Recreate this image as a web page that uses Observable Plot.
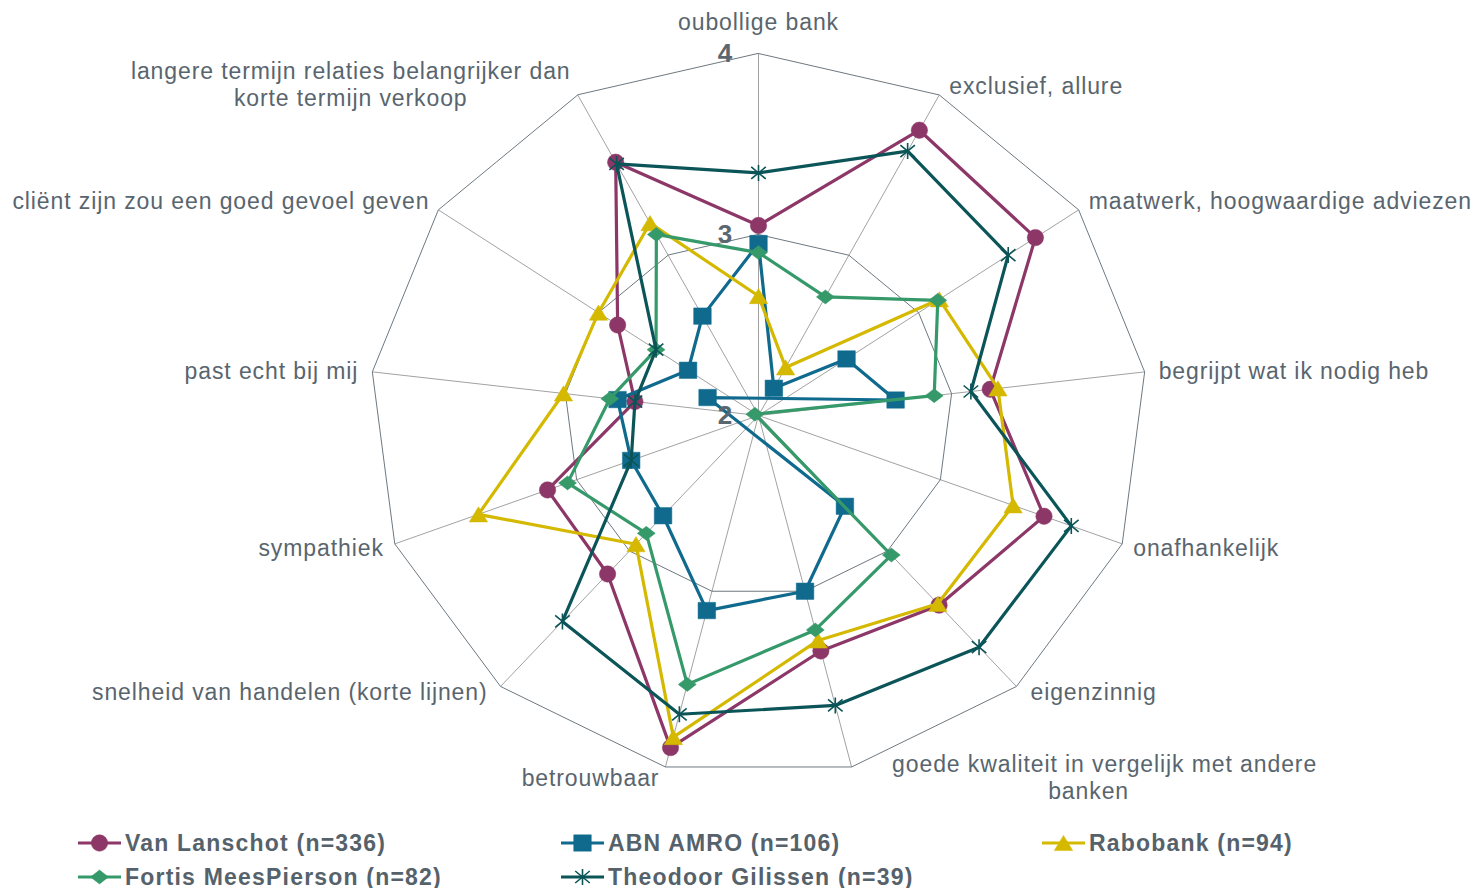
<!DOCTYPE html>
<html>
<head>
<meta charset="utf-8">
<script src="https://cdn.jsdelivr.net/npm/d3@7"></script>
<script src="https://cdn.jsdelivr.net/npm/@observablehq/plot@0.6"></script>
<style>
html, body { margin: 0; padding: 0; background: #ffffff; }
#wrap { position: relative; width: 1480px; height: 888px; overflow: hidden; font-family: "Liberation Sans", Arial, sans-serif; }
#chart { position: absolute; left: 0; top: 0; }
.entry { position: absolute; display: flex; align-items: center; height: 30px; }
.entry svg { display: block; }
.entry span { font-family: "Liberation Sans", Arial, sans-serif; font-weight: bold; font-size: 23px; letter-spacing: 1.2px; color: #56626b; margin-left: 4px; white-space: nowrap; }
</style>
</head>
<body>
<div id="wrap"><div id="chart"></div></div>
<script>
// ---- data ----
const categories = [
  "oubollige bank",
  "exclusief, allure",
  "maatwerk, hoogwaardige adviezen",
  "begrijpt wat ik nodig heb",
  "onafhankelijk",
  "eigenzinnig",
  "goede kwaliteit in vergelijk met andere\nbanken",
  "betrouwbaar",
  "snelheid van handelen (korte lijnen)",
  "sympathiek",
  "past echt bij mij",
  "cliënt zijn zou een goed gevoel geven",
  "langere termijn relaties belangrijker dan\nkorte termijn verkoop"
];
const seriesNames = [
  "Van Lanschot (n=336)",
  "ABN AMRO (n=106)",
  "Rabobank (n=94)",
  "Fortis MeesPierson (n=82)",
  "Theodoor Gilissen (n=39)"
];
const vanLanschot = [3.05, 3.78, 3.73, 3.20, 3.57, 3.40, 3.34, 3.89, 3.17, 3.16, 2.64, 2.88, 3.58];
const abnAmro     = [2.95, 2.17, 2.55, 2.71, 1.72, 2.67, 3.00, 3.11, 2.74, 2.70, 2.73, 2.44, 2.62];
const rabobank    = [2.66, 2.30, 3.13, 3.24, 3.40, 3.39, 3.28, 3.83, 2.95, 3.54, 3.01, 3.00, 3.20];
const fortis      = [2.90, 2.74, 3.12, 2.91, 1.98, 3.03, 3.22, 3.53, 2.87, 3.05, 2.77, 2.64, 3.13];
const theodoor    = [3.34, 3.65, 3.56, 3.10, 3.72, 3.71, 3.65, 3.70, 3.52, 2.70, 2.64, 2.64, 3.57];
const tickValues  = [2, 3, 4];

// ---- styling / layout ----
const colors = ["#8c3767", "#0f6a8e", "#d4b900", "#35996a", "#0b5558"];
const axisMin = 2, axisMax = 4;
const SX = 1.07; // horizontal stretch of markers

function rad(size) { return Math.sqrt(size / Math.PI); }
const symCircle = { draw(c, s) { const r = rad(s); c.moveTo(r, 0); c.arc(0, 0, r, 0, 2 * Math.PI); } };
const symSquare = { draw(c, s) { const r = rad(s); c.rect(-r * SX, -r, 2 * r * SX, 2 * r); } };
const symTriangle = { draw(c, s) { const r = rad(s); c.moveTo(0, -r); c.lineTo(r * 1.13 * SX, r); c.lineTo(-r * 1.13 * SX, r); c.closePath(); } };
const symDiamond = { draw(c, s) { const r = rad(s); c.moveTo(0, -r); c.lineTo(r * 1.2 * SX, 0); c.lineTo(0, r); c.lineTo(-r * 1.2 * SX, 0); c.closePath(); } };
const symStar = { draw(c, s) { const r = rad(s); c.moveTo(0, -r); c.lineTo(0, r);
  c.moveTo(-r * 0.85 * SX, -r * 0.75); c.lineTo(r * 0.85 * SX, r * 0.75);
  c.moveTo(-r * 0.85 * SX, r * 0.75); c.lineTo(r * 0.85 * SX, -r * 0.75); } };
const markerStyles = [
  { symbol: symCircle, r: 8.2, filled: true },
  { symbol: symSquare, r: 8.2, filled: true },
  { symbol: symTriangle, r: 7.6, filled: true },
  { symbol: symDiamond, r: 7, filled: true },
  { symbol: symStar, r: 8, filled: false }
];

const labelLayout = [
  { anchor: "middle", dx: [0], dy: -31 },
  { anchor: "start", dx: [10], dy: -8 },
  { anchor: "start", dx: [10], dy: -8 },
  { anchor: "start", dx: [14], dy: 0 },
  { anchor: "start", dx: [11], dy: 5 },
  { anchor: "start", dx: [14], dy: 6 },
  { anchor: "middle", dx: [253, 237], dy: -2.5 },
  { anchor: "end", dx: [-6], dy: 12 },
  { anchor: "end", dx: [-13], dy: 6 },
  { anchor: "end", dx: [-11], dy: 5 },
  { anchor: "end", dx: [-14], dy: 0 },
  { anchor: "end", dx: [-9], dy: -8 },
  { anchor: "middle", dx: [-227, -227], dy: -23.5 }
];
const lineStep = 27.5;
const textColor = "#59656e";

// ---- build tables ----
const N = categories.length;
const angle = i => i * 2 * Math.PI / N;
const px = (v, i) => (v - axisMin) * Math.sin(angle(i));
const py = (v, i) => (v - axisMin) * Math.cos(angle(i));

const seriesValues = [vanLanschot, abnAmro, rabobank, fortis, theodoor];
const rows = [];
seriesValues.forEach((vals, s) => vals.forEach((v, i) => rows.push({ series: seriesNames[s], s, i, v, x: px(v, i), y: py(v, i) })));

const gridRows = [];
[3, 4].forEach(t => categories.forEach((c, i) => gridRows.push({ t, x: px(t, i), y: py(t, i) })));
const spokes = categories.map((c, i) => ({ x1: 0, y1: 0, x2: px(axisMax, i), y2: py(axisMax, i) }));

const marks = [];
marks.push(Plot.link(spokes, { x1: "x1", y1: "y1", x2: "x2", y2: "y2", stroke: "#a2a2a2", strokeWidth: 1 }));
marks.push(Plot.line(gridRows, { x: "x", y: "y", z: "t", curve: "linear-closed", stroke: "#6d7880", strokeWidth: 1 }));

// category labels
categories.forEach((label, i) => {
  const lay = labelLayout[i];
  label.split("\n").forEach((line, k) => {
    marks.push(Plot.text([{ x: px(axisMax, i), y: py(axisMax, i), line }], {
      x: "x", y: "y", text: "line",
      textAnchor: lay.anchor,
      dx: lay.dx[k] !== undefined ? lay.dx[k] : lay.dx[0],
      dy: lay.dy + k * lineStep,
      fontSize: 23, fill: textColor
    }));
  });
});

// series
seriesNames.forEach((name, s) => {
  const data = rows.filter(d => d.s === s);
  const m = markerStyles[s];
  marks.push(Plot.line(data, { x: "x", y: "y", curve: "linear-closed", stroke: colors[s], strokeWidth: 3.2 }));
  marks.push(Plot.dot(data, {
    x: "x", y: "y", symbol: m.symbol, r: m.r,
    fill: m.filled ? colors[s] : "none",
    stroke: colors[s], strokeWidth: m.filled ? 0.5 : 1.6
  }));
});

// value axis labels
marks.push(Plot.text(tickValues, {
  x: () => 0, y: t => t - axisMin, text: d => String(d),
  dx: -33, fontSize: 26, fontWeight: "bold", fill: "#5b6770"
}));

const chart = Plot.plot({
  width: 1480,
  height: 825,
  x: { domain: [-2, 2], range: [369, 1147], axis: null },
  y: { domain: [-2, 2], range: [777, 53], axis: null },
  style: { background: "#ffffff", fontFamily: "'Liberation Sans', Arial, sans-serif", letterSpacing: "0.9px", overflow: "visible" },
  marks
});
document.getElementById("chart").appendChild(chart);

// ---- legend (below the SVG) ----
const wrap = document.getElementById("wrap");
const legendPos = [
  { left: 78, top: 843 }, { left: 561, top: 843 }, { left: 1042, top: 843 },
  { left: 78, top: 877 }, { left: 561, top: 877 }
];
seriesNames.forEach((name, s) => {
  const div = document.createElement("div");
  div.className = "entry";
  div.style.left = legendPos[s].left + "px";
  div.style.top = (legendPos[s].top - 15) + "px";
  const svg = d3.create("svg").attr("width", 43).attr("height", 30);
  svg.append("line").attr("x1", 0).attr("x2", 43).attr("y1", 15).attr("y2", 15)
    .attr("stroke", colors[s]).attr("stroke-width", 3.2);
  const m = markerStyles[s];
  svg.append("path").attr("transform", "translate(21.5,15)")
    .attr("d", d3.symbol(m.symbol, Math.PI * m.r * m.r)())
    .attr("fill", m.filled ? colors[s] : "none")
    .attr("stroke", colors[s]).attr("stroke-width", m.filled ? 0.5 : 1.6);
  div.appendChild(svg.node());
  const span = document.createElement("span");
  span.textContent = name;
  div.appendChild(span);
  wrap.appendChild(div);
});
</script>
</body>
</html>
